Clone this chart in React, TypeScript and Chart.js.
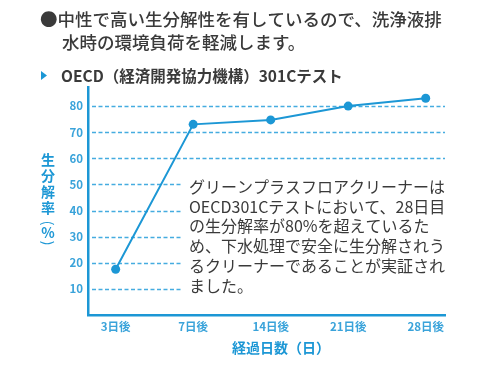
import React, { useEffect, useRef } from "react";
import { Chart, registerables } from "chart.js";

Chart.register(...registerables);

const categories = ["3日後", "7日後", "14日後", "21日後", "28日後"];
const values = [17.5, 73, 74.7, 80, 83];
const yTicks = [10, 20, 30, 40, 50, 60, 70, 80];
const headerLines = ["●中性で高い生分解性を有しているので、洗浄液排", "水時の環境負荷を軽減します。"];
const subtitle = "OECD（経済開発協力機構）301Cテスト";
const yTitleChars = ["生", "分", "解", "率"];
const yTitleUnit = "%";
const xTitle = "経過日数（日）";
const noteLines = [
  "グリーンプラスフロアクリーナーは",
  "OECD301Cテストにおいて、28日目",
  "の生分解率が80%を超えているた",
  "め、下水処理で安全に生分解されう",
  "るクリーナーであることが実証され",
  "ました。",
];

const FONT = '"Noto Sans CJK JP", "Noto Sans", sans-serif';
const BLUE = "#1c97d5";
const TICK_BLUE = "#3aa3da";
const GRID_BLUE = "#45ace0";
const TEXT = "#3a3a3a";

const overlay = {
  id: "overlay",
  beforeDatasetsDraw(chart: any) {
    const ctx = chart.ctx;
    const area = chart.chartArea;
    const ys = chart.scales.y;
    ctx.save();
    ctx.strokeStyle = GRID_BLUE;
    ctx.lineWidth = 1.5;
    ctx.setLineDash([4, 2.5]);
    ys.ticks.forEach((t: any) => {
      const py = Math.round(ys.getPixelForValue(t.value)) + 0.5;
      ctx.beginPath();
      ctx.moveTo(area.left + 4, py);
      ctx.lineTo(area.right, py);
      ctx.stroke();
    });
    ctx.setLineDash([]);
    ctx.fillStyle = "#ffffff";
    ctx.fillRect(183, 170, 263, 130);
    ctx.restore();
  },
  afterDraw(chart: any) {
    const ctx = chart.ctx;
    ctx.save();
    // header
    ctx.fillStyle = TEXT;
    ctx.textBaseline = "middle";
    ctx.textAlign = "left";
    ctx.font = `500 17.5px ${FONT}`;
    ctx.fillText(headerLines[0], 40, 19);
    ctx.fillText(headerLines[1], 62, 42);
    // subtitle
    ctx.fillStyle = BLUE;
    ctx.beginPath();
    ctx.moveTo(41, 71);
    ctx.lineTo(47, 75.5);
    ctx.lineTo(41, 80);
    ctx.closePath();
    ctx.fill();
    ctx.fillStyle = TEXT;
    ctx.font = `bold 15.5px ${FONT}`;
    ctx.fillText(subtitle, 61, 76);
    // y title
    ctx.fillStyle = BLUE;
    ctx.textAlign = "center";
    ctx.font = `bold 14px ${FONT}`;
    const ys = [160, 176, 192, 208];
    yTitleChars.forEach((c, i) => ctx.fillText(c, 48, ys[i]));
    ctx.fillText(yTitleUnit, 48, 233);
    ctx.font = `14px ${FONT}`;
    ctx.save();
    ctx.translate(48, 223);
    ctx.rotate(Math.PI / 2);
    ctx.fillText("(", 0, 0);
    ctx.restore();
    ctx.save();
    ctx.translate(48, 243);
    ctx.rotate(Math.PI / 2);
    ctx.fillText(")", 0, 0);
    ctx.restore();
    // x title
    ctx.font = `bold 14px ${FONT}`;
    ctx.fillText(xTitle, 281, 348);
    // note
    ctx.fillStyle = TEXT;
    ctx.textAlign = "left";
    ctx.font = `16px ${FONT}`;
    noteLines.forEach((l, i) => ctx.fillText(l, 189, 187 + i * 19.7));
    ctx.restore();
  },
};

export default function App() {
  const ref = useRef<HTMLCanvasElement>(null);
  useEffect(() => {
    document.body.style.margin = "0";
    const chart = new Chart(ref.current!, {
      type: "line",
      data: {
        datasets: [
          {
            data: values.map((v, i) => ({ x: i, y: v })),
            borderColor: BLUE,
            backgroundColor: BLUE,
            borderWidth: 2,
            pointRadius: 4.5,
            pointBackgroundColor: BLUE,
            pointBorderWidth: 0,
            tension: 0,
          },
        ],
      },
      options: {
        animation: false,
        responsive: false,
        layout: { padding: { left: 0, right: 45, top: 87, bottom: 0 } },
        plugins: { legend: { display: false }, tooltip: { enabled: false } },
        scales: {
          x: {
            type: "linear",
            min: -0.357,
            max: 4.249,
            afterBuildTicks: (s: any) => {
              s.ticks = categories.map((_, i) => ({ value: i }));
            },
            afterFit: (s: any) => {
              s.height = 53;
            },
            grid: { display: false, drawTicks: false },
            border: { display: true, color: BLUE, width: 2.5 },
            ticks: {
              padding: 5,
              color: TICK_BLUE,
              font: { family: FONT, size: 11.5, weight: "bold" },
              callback: (v: any) => categories[v as number] ?? "",
            },
          },
          y: {
            min: 0,
            max: 87.3,
            afterBuildTicks: (s: any) => {
              s.ticks = yTicks.map((v) => ({ value: v }));
            },
            afterFit: (s: any) => {
              s.width = 88;
            },
            grid: { display: false, drawTicks: false },
            border: { display: true, color: BLUE, width: 2.5 },
            ticks: {
              padding: 5,
              color: TICK_BLUE,
              font: { family: FONT, size: 11.5, weight: "bold" },
            },
          },
        },
      },
      plugins: [overlay],
    });
    return () => chart.destroy();
  }, []);
  return <canvas ref={ref} width={490} height={368} style={{ display: "block" }} />;
}
